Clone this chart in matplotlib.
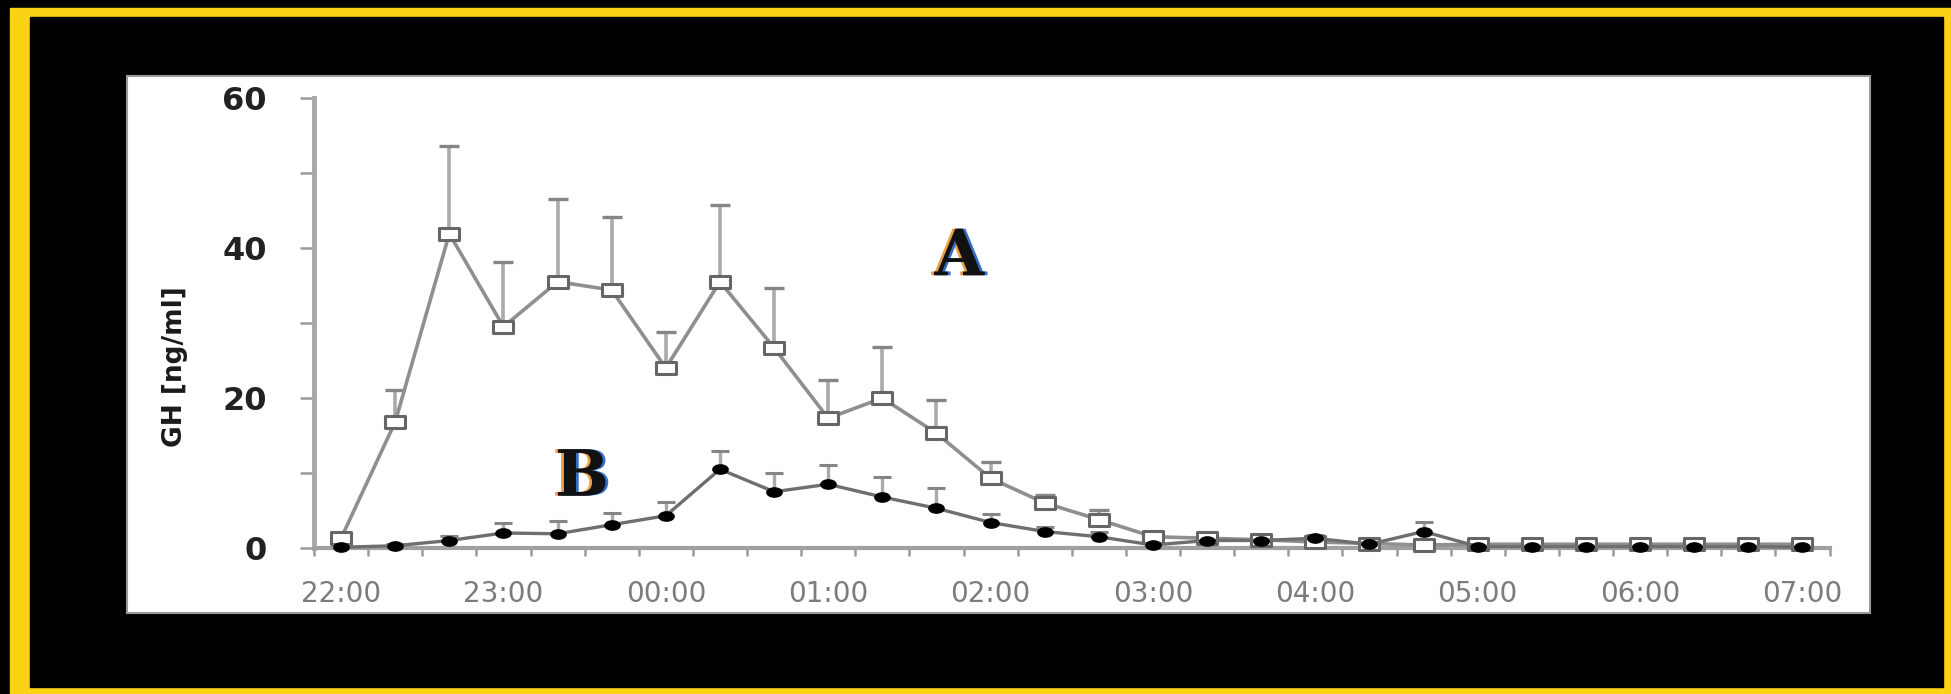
import numpy as np
import matplotlib
matplotlib.use("Agg")
import matplotlib.pyplot as plt
from matplotlib.path import Path
from matplotlib.patches import Rectangle
import matplotlib.patheffects as pe

# x axis: 20 min samples from 22:00 to 07:00, labels every hour
hour_labels = ["22:00", "23:00", "00:00", "01:00", "02:00",
               "03:00", "04:00", "05:00", "06:00", "07:00"]

# curve A (open squares) mean and SEM
gh_a = [1.3, 16.8, 41.9, 29.5, 35.5, 34.4, 24.0, 35.5, 26.7, 17.3,
        20.0, 15.3, 9.3, 6.0, 3.8, 1.5, 1.3, 1.1, 0.8, 0.6,
        0.4, 0.5, 0.5, 0.5, 0.5, 0.5, 0.5, 0.5]
gh_a_sem = [0.5, 4.3, 11.7, 8.7, 11.0, 9.8, 4.8, 10.2, 8.0, 5.1,
            6.8, 4.4, 2.2, 1.1, 1.3, 0.7, 0.5, 0.4, 0.3, 0.2,
            0.2, 0.2, 0.2, 0.2, 0.2, 0.2, 0.2, 0.2]

# curve B (filled circles) mean and SEM
gh_b = [0.1, 0.3, 1.0, 2.0, 1.9, 3.1, 4.3, 10.5, 7.5, 8.5,
        6.8, 5.3, 3.4, 2.2, 1.5, 0.4, 1.0, 1.0, 1.3, 0.5,
        2.2, 0.2, 0.2, 0.2, 0.2, 0.2, 0.2, 0.1]
gh_b_sem = [0.1, 0.2, 0.6, 1.3, 1.7, 1.6, 1.9, 2.4, 2.5, 2.6,
            2.7, 2.7, 1.2, 0.6, 0.6, 0.3, 0.3, 0.3, 0.5, 0.2,
            1.3, 0.1, 0.1, 0.1, 0.1, 0.1, 0.1, 0.1]

W, H = 1951, 694
fig = plt.figure(figsize=(W / 100, H / 100), dpi=100, facecolor="black")


def px_rect(x0, y0, x1, y1, z, **kw):
    r = Rectangle((x0 / W, 1 - y1 / H), (x1 - x0) / W, (y1 - y0) / H,
                  transform=fig.transFigure, figure=fig, zorder=z, **kw)
    fig.patches.append(r)


# yellow frame, black mat, white panel
px_rect(10, 8, W, H, -3, color="#fcd214")
px_rect(30, 17, 1943, 687, -2, color="black")
px_rect(127, 76, 1870, 613, -1, facecolor="white", edgecolor="#9a9a9a", lw=1.5)

ax = fig.add_axes([314 / W, 1 - 548 / H, (1829.5 - 314) / W, 450 / H])
ax.patch.set_visible(False)

# markers stretched horizontally like the source picture
rect_marker = Path([(-1.8, -1), (1.8, -1), (1.8, 1), (-1.8, 1), (-1.8, -1)],
                   [Path.MOVETO, Path.LINETO, Path.LINETO, Path.LINETO, Path.CLOSEPOLY])
circ = Path.unit_circle()
ellipse_marker = Path(circ.vertices * [1.65, 1.0], circ.codes)

x = np.arange(len(gh_a))
a = np.array(gh_a)
b = np.array(gh_b)
a_top = a + np.array(gh_a_sem)
b_top = b + np.array(gh_b_sem)

# upper error bars only
ax.vlines(x, a, a_top, colors="#aaaaaa", lw=2.6, zorder=2)
ax.plot(x, a_top, ls="none", marker="_", ms=15, mew=2.4, color="#858585", zorder=2)
ax.vlines(x, b, b_top, colors="#aaaaaa", lw=2.4, zorder=2)
ax.plot(x, b_top, ls="none", marker="_", ms=13, mew=2.2, color="#858585", zorder=2)

ax.plot(x, a, color="#8f8f8f", lw=2.6, marker=rect_marker, ms=15,
        mfc="white", mec="#666666", mew=2.2, zorder=3, clip_on=False)
ax.plot(x, b, color="#6e6e6e", lw=2.4, marker=ellipse_marker, ms=11,
        mfc="black", mec="black", mew=1, zorder=4, clip_on=False)

ax.set_xlim(-0.5, 27.5)
ax.set_ylim(0, 60)

for s in ["top", "right"]:
    ax.spines[s].set_visible(False)
ax.spines["left"].set_color("#a8a8a8")
ax.spines["left"].set_linewidth(3.5)
ax.spines["bottom"].set_color("#a0a0a0")
ax.spines["bottom"].set_linewidth(3)

ax.set_xticks(np.arange(-0.5, 28, 1))
ax.set_xticks(x[::3], hour_labels, minor=True)
ax.tick_params(axis="x", which="major", direction="out", length=6, width=1.8,
               color="#9a9a9a", labelbottom=False)
ax.tick_params(axis="x", which="minor", length=0, pad=23, labelsize=20,
               labelcolor="#7c7c7c")

ax.set_yticks([0, 20, 40, 60])
ax.set_yticks([10, 30, 50], minor=True)
ax.tick_params(axis="y", which="both", direction="out", length=10, width=1.8,
               color="#9a9a9a")
ax.tick_params(axis="y", which="major", pad=24, labelsize=23, labelcolor="#222222")
for t in ax.get_yticklabels():
    t.set_fontweight("bold")

ax.set_ylabel("GH [ng/ml]", fontsize=19, fontweight="bold", color="#1a1a1a")
ax.yaxis.set_label_coords(-0.083, 0.404)

fringe = [pe.SimplePatchShadow(offset=(-2, 0), shadow_rgbFace="#e8962e", alpha=0.9),
          pe.SimplePatchShadow(offset=(2, 0), shadow_rgbFace="#1f5fbf", alpha=0.9),
          pe.Normal()]
ax.text(11.42, 38.7, "A", ha="center", va="center", fontsize=46,
        family="DejaVu Serif", fontweight="bold", color="#111111",
        path_effects=fringe)
ax.text(4.45, 9.3, "B", ha="center", va="center", fontsize=46,
        family="DejaVu Serif", fontweight="bold", color="#111111",
        path_effects=fringe)

fig.savefig("out.png", dpi=100, facecolor="black")
